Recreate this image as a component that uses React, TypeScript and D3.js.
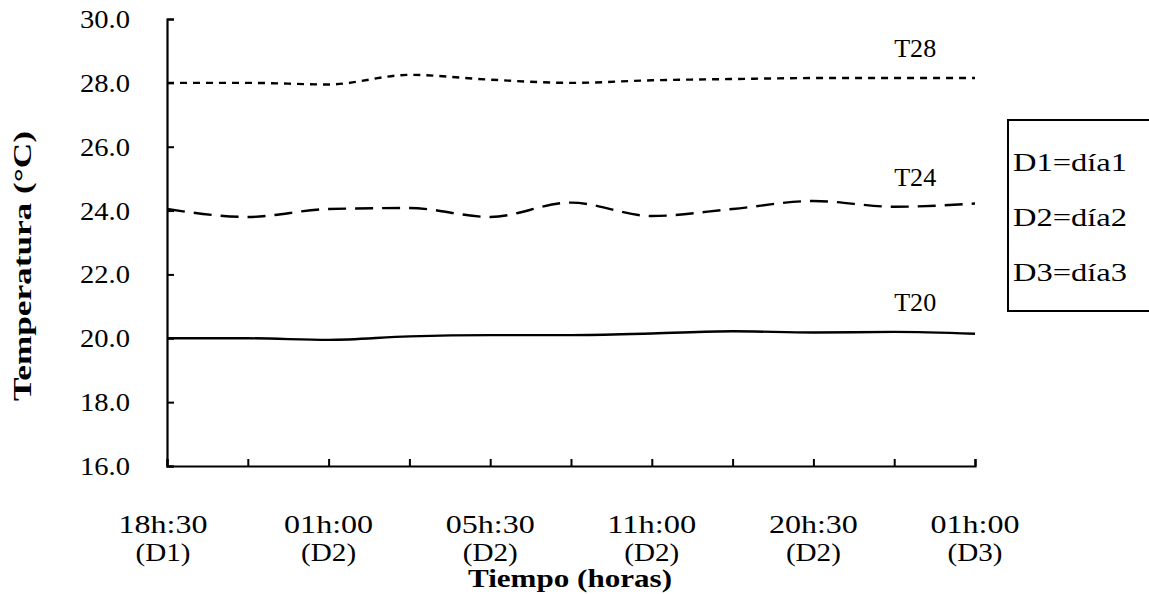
import React, { useEffect, useRef } from 'react'
import * as d3 from 'd3'

// 11 equally spaced readings along the time axis (labels on every other one)
const timeLabels = ['18h:30', '01h:00', '05h:30', '11h:00', '20h:30', '01h:00']
const dayLabels = ['(D1)', '(D2)', '(D2)', '(D2)', '(D2)', '(D3)']
const yTicks = [16, 18, 20, 22, 24, 26, 28, 30]

const t28 = [28.0, 28.0, 27.95, 28.25, 28.1, 28.0, 28.08, 28.12, 28.15, 28.15, 28.15]
const t24 = [24.05, 23.8, 24.05, 24.08, 23.8, 24.25, 23.83, 24.05, 24.3, 24.12, 24.22]
const t20 = [20.0, 20.0, 19.95, 20.06, 20.1, 20.1, 20.15, 20.22, 20.18, 20.2, 20.14]

const seriesNames = ['T28', 'T24', 'T20']
const legendItems = ['D1=día1', 'D2=día2', 'D3=día3']

const App = () => {
  const ref = useRef<SVGSVGElement>(null)

  useEffect(() => {
    const width = 1149
    const height = 594
    const margin = { top: 19, left: 167, right: 174, bottom: 128 }
    const innerW = width - margin.left - margin.right
    const innerH = height - margin.top - margin.bottom

    const svg = d3.select(ref.current)
    svg.selectAll('*').remove()

    const x = d3.scaleLinear().domain([0, t28.length - 1]).range([0, innerW])
    const y = d3.scaleLinear().domain([16, 30]).range([innerH, 0])

    const g = svg.append('g').attr('transform', `translate(${margin.left},${margin.top})`)
    const serif = 'Liberation Serif, serif'

    // y axis, ticks inside
    const yAxis = g.append('g').call(
      d3.axisRight(y).tickValues(yTicks).tickSize(7).tickFormat(() => '')
    )
    yAxis.select('.domain').attr('stroke-width', 2.2)
    yAxis.selectAll('.tick line').attr('stroke-width', 2)

    g.selectAll('.ylab')
      .data(yTicks)
      .enter()
      .append('text')
      .attr('x', -37)
      .attr('y', (d) => y(d) + 9)
      .attr('text-anchor', 'end')
      .attr('textLength', 50)
      .attr('lengthAdjust', 'spacingAndGlyphs')
      .style('font-family', serif)
      .style('font-size', '26px')
      .text((d) => d.toFixed(1))

    // x axis, ticks inside
    const xAxis = g
      .append('g')
      .attr('transform', `translate(0,${innerH})`)
      .call(d3.axisTop(x).ticks(10).tickSize(7).tickFormat(() => ''))
    xAxis.select('.domain').attr('stroke-width', 2.2)
    xAxis.selectAll('.tick line').attr('stroke-width', 2)

    const lx = (i: number) => x(i * 2) - (i === 0 ? 4 : 0)
    g.selectAll('.xlab')
      .data(timeLabels)
      .enter()
      .append('text')
      .attr('x', (d, i) => lx(i))
      .attr('y', innerH + 67)
      .attr('text-anchor', 'middle')
      .attr('textLength', 89)
      .attr('lengthAdjust', 'spacingAndGlyphs')
      .style('font-family', serif)
      .style('font-size', '26px')
      .text((d) => d)
    g.selectAll('.dlab')
      .data(dayLabels)
      .enter()
      .append('text')
      .attr('x', (d, i) => lx(i))
      .attr('y', innerH + 95)
      .attr('text-anchor', 'middle')
      .attr('textLength', 55)
      .attr('lengthAdjust', 'spacingAndGlyphs')
      .style('font-family', serif)
      .style('font-size', '26px')
      .text((d) => d)

    // lines
    const line = d3
      .line<number>()
      .x((d, i) => x(i))
      .y((d) => y(d))
      .curve(d3.curveMonotoneX)

    const data = [t28, t24, t20]
    const dashes = ['7,6', '18,9', null]
    data.forEach((s, k) => {
      g.append('path')
        .datum(s)
        .attr('d', line)
        .attr('fill', 'none')
        .attr('stroke', '#000')
        .attr('stroke-width', 2.4)
        .attr('stroke-dasharray', dashes[k])
    })

    g.selectAll('.slab')
      .data(seriesNames)
      .enter()
      .append('text')
      .attr('x', x(9) + 21)
      .attr('y', (d, i) => y(data[i][9]) - 21)
      .attr('text-anchor', 'middle')
      .attr('textLength', 42)
      .attr('lengthAdjust', 'spacingAndGlyphs')
      .style('font-family', serif)
      .style('font-size', '26px')
      .text((d) => d)

    // legend box (cut by the right edge)
    const lg = svg.append('g').attr('transform', 'translate(1008,120)')
    lg.append('rect')
      .attr('width', 160)
      .attr('height', 191)
      .attr('fill', 'none')
      .attr('stroke', '#000')
      .attr('stroke-width', 2)
    lg.selectAll('text')
      .data(legendItems)
      .enter()
      .append('text')
      .attr('x', 5)
      .attr('y', (d, i) => 51 + i * 55)
      .attr('textLength', 114)
      .attr('lengthAdjust', 'spacingAndGlyphs')
      .style('font-family', serif)
      .style('font-size', '26px')
      .text((d) => d)

    // titles
    svg.append('text')
      .attr('x', 570)
      .attr('y', 587)
      .attr('text-anchor', 'middle')
      .attr('textLength', 204)
      .attr('lengthAdjust', 'spacingAndGlyphs')
      .style('font-family', serif)
      .style('font-weight', 'bold')
      .style('font-size', '26px')
      .text('Tiempo (horas)')

    svg.append('text')
      .attr('transform', 'translate(31,266) rotate(-90)')
      .attr('text-anchor', 'middle')
      .attr('textLength', 270)
      .attr('lengthAdjust', 'spacingAndGlyphs')
      .style('font-family', serif)
      .style('font-weight', 'bold')
      .style('font-size', '26px')
      .text('Temperatura (°C)')
  }, [])

  return (
    <svg
      ref={ref}
      width={1149}
      height={594}
      style={{ position: 'absolute', left: 0, top: 0, background: '#fff' }}
    ></svg>
  )
}

export default App
